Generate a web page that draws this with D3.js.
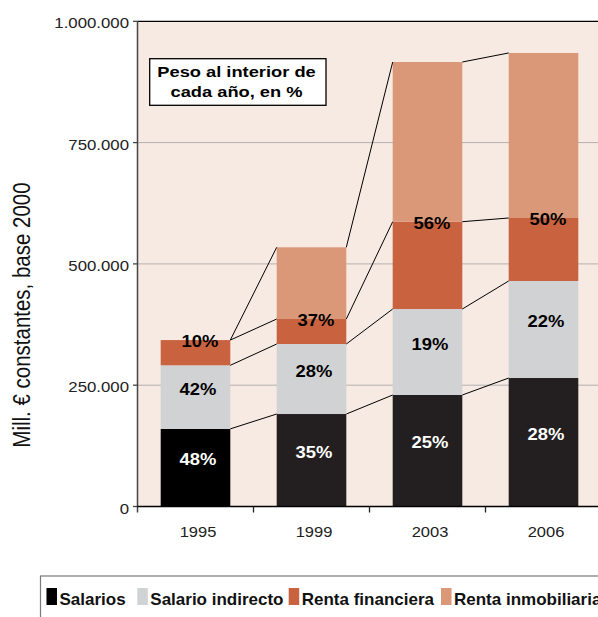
<!DOCTYPE html>
<html><head><meta charset="utf-8">
<script src="https://cdn.jsdelivr.net/npm/d3@7"></script>
<style>
html,body{margin:0;padding:0;background:#fff;overflow:hidden}
svg{display:block;font-family:"Liberation Sans",Arial,Helvetica,sans-serif}
</style></head>
<body>
<svg id="c" width="598" height="617"></svg>
<script>
// ---- data ----
const years = ["1995","1999","2003","2006"];
const seriesNames = ["Salarios","Salario indirecto","Renta financiera","Renta inmobiliaria"];
const salarios          = [160000, 190600, 229800, 264800];
const salarioIndirecto  = [131000, 144300, 177200, 200000];
const rentaFinanciera   = [ 52000,  51500, 180000, 129800];
const rentaInmobiliaria = [     0, 147800, 329100, 340100];
const pctSalarios   = ["48%","35%","25%","28%"];
const pctIndirecto  = ["42%","28%","19%","22%"];
const pctRentas     = ["10%","37%","56%","50%"];
const yTicks = [0, 250000, 500000, 750000, 1000000];
const yTitle = "Mill. € constantes, base 2000";
const noteLines = ["Peso al interior de", "cada año, en %"];

// ---- styles ----
const colors = ["#231f20", "#d1d2d4", "#c8623f", "#db9878"];
const FONT = '"Liberation Sans",Arial,Helvetica,sans-serif';

const rows = years.map((yr, i) => ({
  year: yr,
  "Salarios": salarios[i],
  "Salario indirecto": salarioIndirecto[i],
  "Renta financiera": rentaFinanciera[i],
  "Renta inmobiliaria": rentaInmobiliaria[i]
}));
const stacked = d3.stack().keys(seriesNames)(rows);

const svg = d3.select("#c");
const pL = 137.5, pR = 601.5, pT = 21.3, pB = 506.5;

const x = d3.scaleBand().domain(years).range([pL, pR]).paddingInner(0.4).paddingOuter(0.2);
const y = d3.scaleLinear().domain([0, 1000000]).range([pB, pT]);
const fmt = d3.formatLocale({decimal: ",", thousands: ".", grouping: [3], currency: ["", "€"]}).format(",");

// plot background
svg.append("rect").attr("x", pL).attr("y", pT).attr("width", 700).attr("height", pB - pT)
  .attr("fill", "#f6eae2");

// gridlines
svg.append("g").selectAll("line").data(yTicks.filter(v => v > 0 && v < 1000000)).join("line")
  .attr("x1", pL).attr("x2", 700).attr("y1", d => y(d)).attr("y2", d => y(d))
  .attr("stroke", "#b4b0ae").attr("stroke-width", 1);

// top border
svg.append("line").attr("x1", pL).attr("x2", 700).attr("y1", y(1000000)).attr("y2", y(1000000))
  .attr("stroke", "#000").attr("stroke-width", 1.2);

// bars
const layer = svg.append("g").selectAll("g").data(stacked).join("g")
  .attr("fill", (d, i) => colors[i]);
layer.selectAll("rect").data(d => d.map(v => Object.assign(v, {key: d.key}))).join("rect")
  .attr("x", d => x(d.data.year))
  .attr("width", x.bandwidth())
  .attr("y", d => y(d[1]))
  .attr("height", d => y(d[0]) - y(d[1]))
  .attr("fill", d => (d.key === "Salarios" && d.data.year === "1995") ? "#000" : null);

// connecting lines
const conn = [];
stacked.forEach(s => {
  for (let i = 0; i < years.length - 1; i++) {
    conn.push({x1: x(years[i]) + x.bandwidth(), y1: y(s[i][1]), x2: x(years[i + 1]), y2: y(s[i + 1][1])});
  }
});
svg.append("g").selectAll("line").data(conn).join("line")
  .attr("x1", d => d.x1).attr("y1", d => d.y1).attr("x2", d => d.x2).attr("y2", d => d.y2)
  .attr("stroke", "#000").attr("stroke-width", 1);

// bar labels
const SXB = 1.15;
const lab = svg.append("g").attr("font-family", FONT).attr("font-weight", "bold").attr("font-size", 16);
years.forEach((yr, i) => {
  const cx = x(yr) + x.bandwidth() / 2;
  const s0 = stacked[0][i], s1 = stacked[1][i], s2 = stacked[2][i];
  const items = [
    {t: pctSalarios[i], x: cx + 2.5, y: (y(s0[0]) + y(s0[1])) / 2 - 2.5, c: "#fff"},
    {t: pctIndirecto[i], x: cx + 2.5, y: (y(s1[0]) + y(s1[1])) / 2 - 2.5, c: "#000"},
    {t: pctRentas[i], x: cx + 4.5, y: y(s2[1]) + 7, c: "#000"}
  ];
  items.forEach(it => {
    lab.append("text").attr("transform", `translate(${it.x},${it.y}) scale(${SXB},1)`)
      .attr("text-anchor", "middle").attr("fill", it.c).text(it.t);
  });
});

// y axis
svg.append("line").attr("x1", pL).attr("x2", pL).attr("y1", pT).attr("y2", pB + 6)
  .attr("stroke", "#444").attr("stroke-width", 1.5);
svg.append("g").selectAll("line").data(yTicks).join("line")
  .attr("x1", pL - 4.5).attr("x2", pL).attr("y1", d => y(d)).attr("y2", d => y(d))
  .attr("stroke", "#444").attr("stroke-width", 1.3);
svg.append("g").attr("font-family", FONT).attr("font-size", 15).attr("fill", "#222")
  .selectAll("text").data(yTicks).join("text")
  .attr("transform", d => `translate(${pL - 8.5},${y(d) + 7}) scale(1.12,1)`)
  .attr("text-anchor", "end").text(d => fmt(d));

// x axis
svg.append("line").attr("x1", pL).attr("x2", 700).attr("y1", pB).attr("y2", pB)
  .attr("stroke", "#000").attr("stroke-width", 1.3);
const step = x.step();
svg.append("g").selectAll("line").data(years).join("line")
  .attr("x1", d => x(d) - step * x.paddingInner() / 2 + step)
  .attr("x2", d => x(d) - step * x.paddingInner() / 2 + step)
  .attr("y1", pB).attr("y2", pB + 6)
  .attr("stroke", "#222").attr("stroke-width", 1.3);
svg.append("g").attr("font-family", FONT).attr("font-size", 15).attr("fill", "#222")
  .selectAll("text").data(years).join("text")
  .attr("transform", d => `translate(${x(d) + x.bandwidth() / 2 + 2.5},537.3) scale(1.1,1)`)
  .attr("text-anchor", "middle").text(d => d);

// y title
svg.append("text").attr("font-family", FONT).attr("font-size", 20.5).attr("fill", "#111")
  .attr("transform", "translate(30,315) rotate(-90) scale(1,1.2)")
  .attr("text-anchor", "middle").text(yTitle);

// note box
svg.append("rect").attr("x", 149.7).attr("y", 58.7).attr("width", 176.3).attr("height", 46.6)
  .attr("fill", "#fff").attr("stroke", "#000").attr("stroke-width", 1.3);
svg.append("g").attr("font-family", FONT).attr("font-weight", "bold").attr("font-size", 15.5)
  .selectAll("text").data(noteLines).join("text")
  .attr("transform", (d, i) => `translate(236.5,${76.5 + i * 20}) scale(1.18,1)`)
  .attr("text-anchor", "middle").text(d => d);

// legend
svg.append("rect").attr("x", 40.5).attr("y", 576).attr("width", 700).attr("height", 80)
  .attr("fill", "#fff").attr("stroke", "#7a7a7a").attr("stroke-width", 1.2);
const legX = [46.5, 137.3, 288.7, 441];
const lg = svg.append("g").selectAll("g").data(seriesNames).join("g")
  .attr("transform", (d, i) => `translate(${legX[i]},0)`);
lg.append("rect").attr("x", 0).attr("y", 588).attr("width", 10.5).attr("height", 17)
  .attr("fill", (d, i) => i === 0 ? "#000" : colors[i]);
lg.append("text").attr("x", 13).attr("y", 605).attr("font-family", FONT).attr("font-weight", "bold")
  .attr("font-size", 17).attr("fill", "#111").text(d => d);
</script>
</body></html>
